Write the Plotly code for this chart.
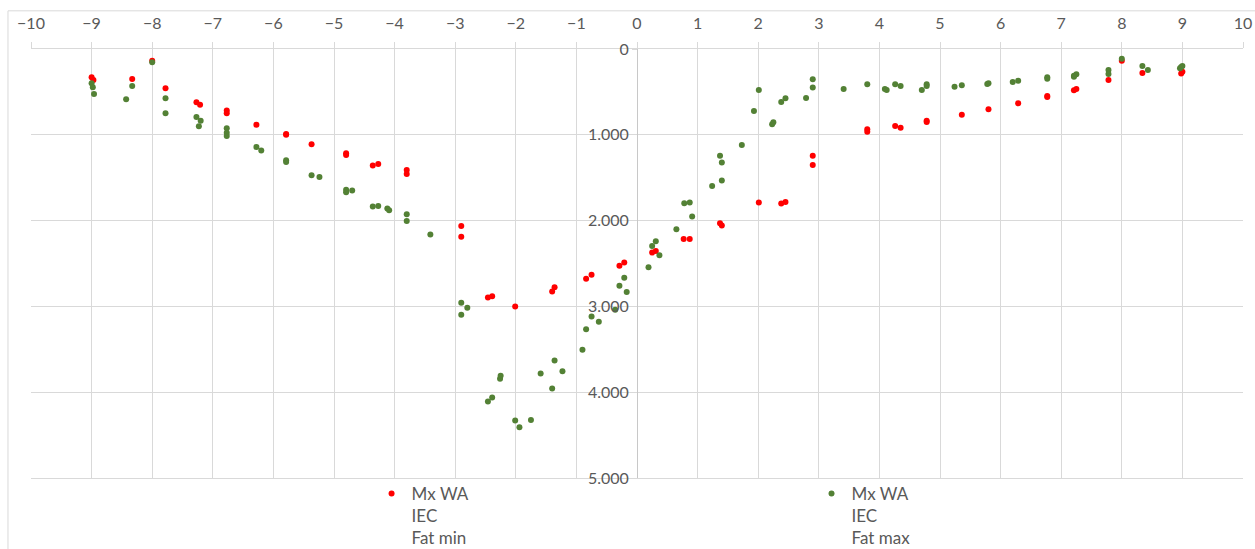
import plotly.graph_objects as go

# Fat min (red)
x_min = [-9.0, -8.97, -8.33, -8.0, -7.78, -7.27, -7.21, -6.77, -6.77, -6.28, -5.79, -5.79, -5.37,
         -4.80, -4.80, -4.36, -4.27, -3.80, -3.80, -2.90, -2.90, -2.46, -2.39, -2.01, -1.40, -1.36,
         -0.84, -0.75, -0.29, -0.21, 0.25, 0.31, 0.77, 0.87, 1.37, 1.40, 2.01, 2.38, 2.45, 2.90, 2.90,
         3.80, 3.80, 4.26, 4.35, 4.78, 4.78, 5.36, 5.80, 6.29, 6.77, 6.77, 7.21, 7.25, 7.78, 8.0,
         8.34, 8.98, 9.0]
y_min = [330, 361, 350, 136, 458, 621, 649, 718, 750, 882, 990, 998, 1111,
         1216, 1235, 1359, 1340, 1410, 1456, 2064, 2188, 2895, 2883, 3000, 2825, 2778,
         2677, 2630, 2525, 2487, 2373, 2353, 2214, 2214, 2031, 2058, 1790, 1802, 1783, 1243, 1351,
         936, 963, 897, 917, 835, 850, 765, 703, 633, 548, 559, 482, 466, 361, 136,
         280, 287, 264]

# Fat max (green)
x_max = [-9.0, -8.98, -8.96, -8.43, -8.33, -8.0, -7.78, -7.78, -7.27, -7.20, -7.23, -6.77, -6.77,
         -6.77, -6.28, -6.20, -5.79, -5.79, -5.37, -5.24, -4.80, -4.80, -4.70, -4.36, -4.27, -4.12,
         -4.09, -3.80, -3.80, -3.41, -2.90, -2.80, -2.90, -2.46, -2.39, -2.26, -2.25, -2.01, -1.94,
         -1.75, -1.40, -1.59, -1.36, -1.23, -0.90, -0.84, -0.75, -0.63, -0.36, -0.29, -0.21, -0.17,
         0.19, 0.25, 0.31, 0.37, 0.65, 0.78, 0.87, 0.91, 1.24, 1.37, 1.40, 1.40, 1.73, 1.93, 2.01,
         2.23, 2.25, 2.38, 2.45, 2.79, 2.90, 2.90, 3.41, 3.80, 4.09, 4.12, 4.26, 4.35, 4.70, 4.78,
         4.78, 5.24, 5.36, 5.80, 5.78, 6.20, 6.29, 6.77, 6.77, 7.21, 7.25, 7.21, 7.78, 7.78, 8.0,
         8.34, 8.43, 8.96, 9.0, 8.98]
y_max = [400, 447, 524, 586, 431, 155, 575, 750, 792, 835, 901, 924, 975,
         1014, 1142, 1184, 1297, 1317, 1472, 1491, 1639, 1670, 1650, 1837, 1829, 1860,
         1880, 1926, 2004, 2163, 2957, 3016, 3097, 4109, 4062, 3844, 3809, 4331, 4409,
         4323, 3957, 3782, 3630, 3755, 3506, 3265, 3117, 3179, 3039, 2759, 2665, 2833,
         2544, 2295, 2241, 2404, 2101, 1798, 1790, 1953, 1596, 1243, 1324, 1534, 1118, 722, 478,
         878, 854, 617, 575, 571, 353, 450, 466, 412, 466, 478, 412, 431, 478, 431,
         412, 439, 423, 400, 408, 384, 369, 330, 346, 322, 295, 311, 245, 291, 113,
         198, 245, 225, 198, 210]

x_ticks = list(range(-10, 11))
y_ticks = [0, 1000, 2000, 3000, 4000, 5000]
y_tick_labels = ["0", "1.000", "2.000", "3.000", "4.000", "5.000"]

name_min = "Mx WA<br>IEC<br>Fat min"
name_max = "Mx WA<br>IEC<br>Fat max"

TXT = "#595959"
GRID = "#D9D9D9"
FONT = "Lato"

fig = go.Figure()
fig.add_trace(go.Scatter(x=x_min, y=y_min, mode="markers", name=name_min, legend="legend",
                         marker=dict(color="#FF0000", size=6)))
fig.add_trace(go.Scatter(x=x_max, y=y_max, mode="markers", name=name_max, legend="legend2",
                         marker=dict(color="#538135", size=6)))

leg_common = dict(orientation="v", xanchor="left", yanchor="top", valign="top",
                  font=dict(family=FONT, size=17, color=TXT),
                  bgcolor="rgba(0,0,0,0)", borderwidth=0)

fig.update_layout(
    width=1255, height=549,
    margin=dict(l=31, r=12, t=49, b=71, autoexpand=False),
    plot_bgcolor="white", paper_bgcolor="white",
    font=dict(family=FONT, size=16, color=TXT),
    showlegend=True,
    legend=dict(x=0.281, y=0.005, **leg_common),
    legend2=dict(x=0.644, y=0.005, **leg_common),
    xaxis=dict(range=[-10, 10], tickvals=x_ticks, side="top", showgrid=True,
               gridcolor=GRID, gridwidth=1, zeroline=True, zerolinecolor="#C8C8C8",
               zerolinewidth=1, showline=True, linecolor=GRID, linewidth=1, mirror=True,
               ticks="outside", ticklen=6, tickcolor=GRID, ticklabelstandoff=7,
               tickfont=dict(family=FONT, size=16, color=TXT), fixedrange=True),
    yaxis=dict(range=[5000, 0], tickvals=y_ticks, ticktext=y_tick_labels,
               anchor="free", position=0.5, side="left", showgrid=True,
               gridcolor=GRID, gridwidth=1, zeroline=False, showline=False,
               ticks="outside", ticklen=5, tickcolor=GRID,
               tickfont=dict(family=FONT, size=16, color=TXT), fixedrange=True),
)

# outer chart border
fig.add_shape(type="rect", xref="paper", yref="paper",
              x0=-0.019, x1=1.05, y0=-0.3, y1=1.089,
              line=dict(color=GRID, width=1), fillcolor="rgba(0,0,0,0)", layer="below")

fig.write_html("out.html")
